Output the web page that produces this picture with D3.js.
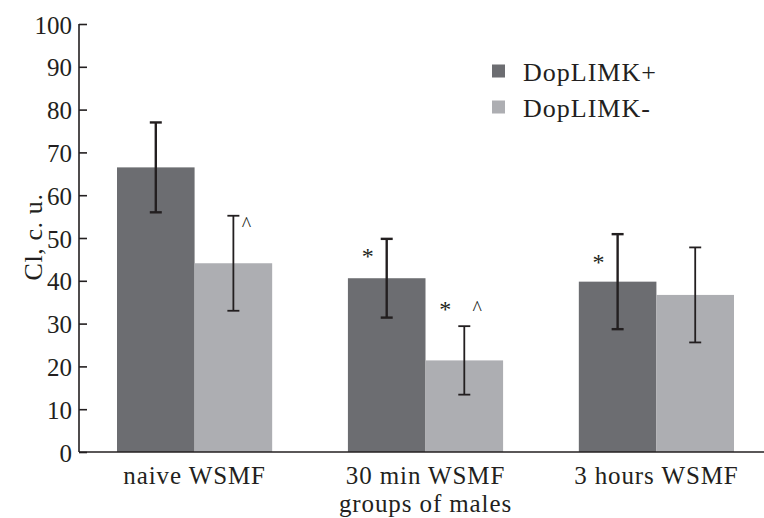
<!DOCTYPE html>
<html><head><meta charset="utf-8">
<script src="https://cdn.jsdelivr.net/npm/d3@7"></script>
<style>body{margin:0;background:#fff}svg{display:block}text{font-family:"Liberation Serif","Times New Roman",serif;fill:#231f20}</style>
</head><body><svg id="c" width="764" height="518"></svg>
<script>
const categories = ["naive WSMF", "30 min WSMF", "3 hours WSMF"];
const series = ["DopLIMK+", "DopLIMK-"];
const meanPlus = [66.5, 40.6, 39.8];
const meanMinus = [44.1, 21.4, 36.7];
const errPlus = [10.5, 9.2, 11.1];
const errMinus = [11.1, 8.0, 11.1];
const yTicks = [0, 10, 20, 30, 40, 50, 60, 70, 80, 90, 100];
const xTitle = "groups of males";
const yTitle = "Cl, c. u.";
// annotations: [category index, series index, text, y level (data units)]
const marks = [
  [0, 1, "^", 54.2],
  [1, 0, "*", 46.4],
  [1, 1, "*", 34.0],
  [1, 1, "^", 34.6],
  [2, 0, "*", 45.0]
];

const svg = d3.select("#c");
const colors = ["#6c6d71", "#adaeb2"];
const y = d3.scaleLinear().domain([0, 100]).range([452, 24]);
const x0 = d3.scaleBand().domain(categories).range([117, 734]).paddingInner(0.328).paddingOuter(0);
const x1 = d3.scaleBand().domain(series).range([0, x0.bandwidth()]);
const means = [meanPlus, meanMinus];
const errs = [errPlus, errMinus];

series.forEach((s, si) => {
  svg.append("g").selectAll("rect").data(categories).join("rect")
    .attr("x", c => x0(c) + x1(s))
    .attr("width", x1.bandwidth())
    .attr("y", (c, i) => y(means[si][i]))
    .attr("height", (c, i) => y(0) - y(means[si][i]))
    .attr("fill", colors[si]);
});

series.forEach((s, si) => {
  const g = svg.append("g").attr("stroke", "#231f20").attr("stroke-width", si === 0 ? 2.4 : 1.8).attr("fill", "none");
  categories.forEach((c, i) => {
    const cx = x0(c) + x1(s) + x1.bandwidth() / 2;
    const hi = y(means[si][i] + errs[si][i]), lo = y(means[si][i] - errs[si][i]);
    g.append("line").attr("x1", cx).attr("x2", cx).attr("y1", hi).attr("y2", lo);
    g.append("line").attr("x1", cx - 6).attr("x2", cx + 6).attr("y1", hi).attr("y2", hi);
    g.append("line").attr("x1", cx - 6).attr("x2", cx + 6).attr("y1", lo).attr("y2", lo);
  });
});

marks.forEach(([ci, si, t, v]) => {
  const cx = x0(categories[ci]) + x1(series[si]) + x1.bandwidth() / 2;
  const dx = t === "^" ? 13 : -19;
  svg.append("text").attr("x", cx + dx).attr("y", y(v) + (t === "*" ? 3 : 4))
    .attr("text-anchor", "middle").attr("dominant-baseline", "central")
    .style("font-size", t === "*" ? "24px" : "20px").text(t);
});

const ya = svg.append("g").attr("transform", "translate(79,0)")
  .call(d3.axisRight(y).tickValues(yTicks).tickSize(8).tickFormat(""));
ya.select(".domain").attr("stroke", "#231f20").attr("stroke-width", 1.6).attr("d", `M0,${y(100)}V${y(0)}`);
ya.selectAll(".tick line").attr("stroke", "#231f20").attr("stroke-width", 1.6);
svg.append("g").selectAll("text").data(yTicks).join("text")
  .attr("x", 72).attr("y", d => y(d) + 1).attr("text-anchor", "end")
  .attr("dominant-baseline", "central").style("font-size", "25px").text(d => d);

svg.append("line").attr("x1", 79).attr("x2", 764).attr("y1", y(0)).attr("y2", y(0))
  .attr("stroke", "#231f20").attr("stroke-width", 1.6);
svg.append("g").selectAll("text").data(categories).join("text")
  .attr("x", c => x0(c) + x0.bandwidth() / 2).attr("y", 484)
  .attr("text-anchor", "middle").style("font-size", "25px").style("letter-spacing", "0.9px").text(c => c);
svg.append("text").attr("x", x0(categories[1]) + x0.bandwidth() / 2).attr("y", 512)
  .attr("text-anchor", "middle").style("font-size", "25px").style("letter-spacing", "0.9px").text(xTitle);
svg.append("text").attr("transform", "translate(42,237) rotate(-90)")
  .attr("text-anchor", "middle").style("font-size", "26px").style("letter-spacing", "0.6px").text(yTitle);

series.forEach((s, si) => {
  const ly = 71 + si * 36;
  svg.append("rect").attr("x", 492).attr("y", ly - 6.5).attr("width", 13).attr("height", 13).attr("fill", colors[si]);
  svg.append("text").attr("x", 523).attr("y", ly + 1).attr("dominant-baseline", "central")
    .style("font-size", "26px").style("letter-spacing", "1px").text(s);
});
</script></body></html>
